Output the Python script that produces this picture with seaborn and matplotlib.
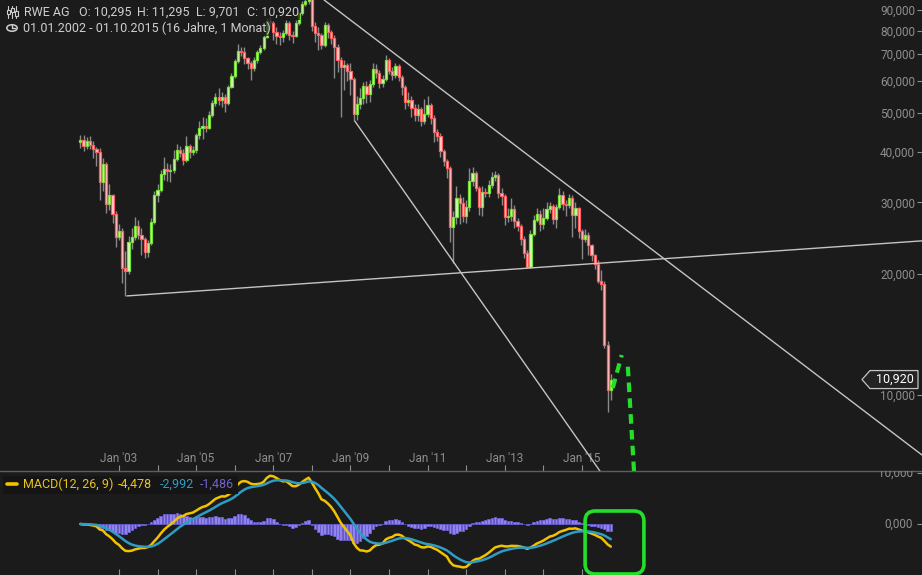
import numpy as np
import pandas as pd
import matplotlib
matplotlib.use("Agg")
import matplotlib.pyplot as plt
from matplotlib.lines import Line2D
from matplotlib.patches import FancyBboxPatch, Rectangle, Circle, Polygon
from matplotlib.transforms import IdentityTransform, blended_transform_factory
import seaborn as sns

# monthly RWE AG candles, Jan 2002 .. Oct 2015 (EUR)
months = pd.date_range("2002-01-01", "2015-10-01", freq="MS")
first_open = 42.3
closes = [
    42.85, 41.4, 42.6, 41.65, 40.7, 40.0, 33.7, 37.4, 29.7, 31.3, 28.1, 24.6,
    25.5, 20.6, 20.3, 23.9, 24.6, 26.2, 24.9, 24.3, 22.6, 23.8, 26.8, 31.3,
    32.2, 35.3, 36.3, 35.9, 36.1, 38.4, 40.5, 39.8, 38.2, 41.4, 40.0, 40.5,
    44.1, 45.9, 46.5, 45.9, 49.4, 52.9, 54.8, 53.8, 54.8, 52.9, 58.0, 61.7,
    67.3, 71.2, 70.9, 68.4, 66.5, 64.6, 67.7, 70.8, 72.4, 77.1, 84.5, 83.5,
    79.4, 77.6, 77.1, 79.0, 83.5, 78.0, 77.6, 83.5, 88.5, 93.1, 94.8, 96.5,
    82.1, 79.0, 78.0, 73.7, 82.6, 79.4, 76.7, 72.9, 67.7, 65.0, 65.8, 63.5,
    60.7, 49.7, 52.6, 54.5, 58.3, 55.7, 59.0, 64.2, 62.8, 59.3, 60.7, 67.7,
    63.5, 62.1, 65.4, 61.4, 58.0, 53.2, 53.8, 51.4, 49.4, 51.1, 47.7, 49.7,
    52.3, 48.6, 44.9, 43.8, 40.3, 38.0, 36.5, 26.1, 27.6, 30.8, 29.9, 27.8,
    29.2, 33.9, 35.5, 32.6, 29.2, 31.8, 31.7, 33.2, 34.7, 35.1, 31.7, 31.1,
    27.6, 27.8, 28.9, 27.0, 26.2, 24.3, 22.5, 20.7, 25.1, 27.15, 28.1, 26.5,
    27.5, 28.9, 29.4, 27.3, 29.2, 31.3, 29.7, 29.55, 30.8, 27.9, 29.0, 25.5,
    24.4, 24.9, 23.5, 22.2, 21.1, 19.2, 18.8, 13.3, 10.30, 10.92,
]
highs = [
    44.0, 44.2, 43.6, 43.9, 42.5, 41.2, 41.0, 38.6, 37.9, 33.4, 31.5, 28.6,
    26.5, 26.0, 22.8, 24.8, 26.0, 27.6, 27.2, 25.9, 24.6, 24.2, 27.5, 32.0,
    33.4, 36.2, 38.9, 37.5, 37.4, 40.4, 41.8, 41.3, 40.6, 43.9, 42.0, 41.4,
    44.6, 47.8, 49.0, 48.5, 50.5, 53.8, 56.0, 57.5, 56.5, 55.8, 58.8, 62.8,
    68.0, 74.0, 73.0, 72.8, 69.0, 67.2, 69.0, 71.5, 73.5, 78.0, 86.0, 86.5,
    84.5, 81.5, 79.5, 80.5, 85.0, 84.5, 80.0, 85.0, 89.5, 94.5, 97.5, 99.0,
    100.5, 84.0, 81.5, 79.0, 84.0, 83.5, 80.5, 78.0, 74.0, 69.0, 67.5, 66.5,
    66.5, 61.5, 55.0, 57.5, 59.5, 60.0, 60.5, 66.5, 66.0, 64.0, 62.0, 69.5,
    68.5, 65.0, 66.5, 66.0, 62.0, 58.5, 56.5, 55.0, 52.5, 52.5, 51.8, 54.0,
    55.0, 53.0, 49.5, 45.5, 44.5, 40.8, 38.5, 37.0, 28.5, 32.9, 31.5, 31.0,
    30.5, 36.5, 36.8, 36.0, 33.0, 33.0, 32.5, 34.2, 35.8, 35.9, 35.5, 32.5,
    31.5, 29.0, 30.8, 29.5, 27.5, 26.5, 24.8, 22.9, 25.6, 28.0, 29.0, 28.7,
    29.0, 30.0, 30.0, 29.8, 29.8, 32.6, 32.0, 30.5, 31.5, 31.3, 30.0, 29.2,
    25.8, 25.8, 25.3, 23.7, 22.4, 21.6, 20.4, 19.2, 13.6, 11.295,
]
lows = [
    41.0, 40.2, 40.6, 40.6, 38.6, 37.0, 30.4, 32.0, 28.3, 28.7, 26.7, 23.3,
    24.2, 18.9, 17.6, 19.9, 23.0, 24.2, 24.3, 22.2, 21.9, 22.0, 23.5, 26.5,
    30.0, 31.8, 34.2, 34.0, 33.7, 35.4, 38.0, 38.9, 37.2, 37.8, 38.6, 39.4,
    39.8, 43.2, 43.0, 44.8, 45.5, 48.9, 52.0, 52.2, 51.8, 50.2, 52.3, 57.5,
    61.0, 66.5, 69.3, 66.0, 64.3, 60.4, 63.5, 66.5, 70.0, 71.5, 76.5, 81.0,
    76.0, 74.0, 73.5, 75.0, 78.0, 76.0, 74.5, 77.0, 82.5, 87.5, 92.0, 93.0,
    80.0, 75.0, 71.5, 72.0, 73.0, 76.5, 74.0, 61.0, 63.0, 48.8, 57.0, 60.0,
    55.5, 47.7, 48.0, 51.0, 52.5, 53.0, 53.3, 58.0, 61.0, 57.5, 58.0, 60.0,
    62.5, 60.5, 61.0, 60.0, 55.5, 51.0, 52.0, 49.0, 47.8, 47.8, 46.5, 47.0,
    49.0, 47.0, 42.3, 42.5, 38.8, 37.0, 34.5, 24.0, 21.2, 26.5, 26.5, 26.8,
    26.7, 28.6, 33.0, 32.0, 28.0, 27.7, 31.0, 31.0, 32.5, 34.0, 30.8, 29.5,
    26.4, 26.8, 27.0, 26.0, 25.5, 23.5, 21.8, 20.6, 20.6, 24.8, 26.8, 25.5,
    25.8, 27.2, 28.2, 26.5, 26.0, 28.9, 28.8, 27.7, 29.0, 24.7, 25.9, 24.5,
    21.7, 24.0, 22.2, 21.5, 20.5, 18.9, 18.2, 13.1, 9.10, 9.701,
]

price_ticks = [10, 20, 30, 40, 50, 60, 70, 80, 90]
price_tick_labels = ["10,000", "20,000", "30,000", "40,000", "50,000",
                     "60,000", "70,000", "80,000", "90,000"]
macd_ticks = [0, 10]
macd_tick_labels = ["0,000", "10,000"]
label_years = [2003, 2005, 2007, 2009, 2011, 2013, 2015]

# hand drawn trend lines (month index, price)
trend_upper = ([75.8, 261.8], [95.3, 7.10])
trend_steep = ([85.4, 165.0], [47.7, 5.93])
trend_support = ([14.5, 261.8], [17.6, 24.1])
arrow_up = ([165.6, 168.4], [10.41, 12.56])
arrow_down = ([170.3, 172.3], [11.75, 6.3])
box_x = (157.0, 175.3)
box_y = (-9.8, 2.55)

header_parts = [("RWE AG", 24), ("O: 10,295", 79), ("H: 11,295", 137),
                ("L: 9,701", 196), ("C: 10,920", 247)]
header_range = "01.01.2002 - 01.10.2015 (16 Jahre, 1 Monat)"
last_price = 10.92
last_label = "10,920"
macd_parts = [("MACD(12, 26, 9)", 23, "#e9c21c"), ("-4,478", 118, "#e9c21c"),
              ("-2,992", 160, "#2e9cc4"), ("-1,486", 200, "#6f63c8")]

bg = "#1c1b1b"
grey = "#8e8e8e"
sns.set_theme(style="dark", rc={"axes.facecolor": bg, "figure.facecolor": bg,
                                "savefig.facecolor": bg})
plt.rcParams["font.family"] = ["Roboto", "DejaVu Sans"]

W, H = 922, 575
fig = plt.figure(figsize=(W / 100, H / 100), dpi=100)
split = 104 / H
ax = fig.add_axes([0, split, 1, 1 - split])
axm = fig.add_axes([0, 0, 1, split], sharex=ax)

x = np.arange(len(closes))
c = np.array(closes)
o = np.r_[first_open, c[:-1]]
up = c >= o
bottom = np.minimum(o, c)
height = np.maximum(np.abs(c - o), bottom * 0.006)

ax.vlines(x, lows, highs, color="#8a8a8a", lw=1.0, zorder=2)
ax.bar(x[up], height[up], bottom=bottom[up], width=0.68, color="#d6f9bd",
       edgecolor="#74e036", linewidth=0.9, zorder=3)
ax.bar(x[~up], height[~up], bottom=bottom[~up], width=0.68, color="#ffd2d2",
       edgecolor="#ff5e5e", linewidth=0.9, zorder=3)

ax.set_yscale("log")
ax.set_xlim(-25.0, 261.8)
ax.set_ylim(6.48, 95.27)

for lx, ly in (trend_upper, trend_steep, trend_support):
    ax.plot(lx, ly, color="#c4c4c4", lw=1.0, zorder=4)
for lx, ly in (arrow_up, arrow_down):
    ax.plot(lx, ly, color="#22e02a", lw=3.0, linestyle=(0, (2.3, 1.5)),
            dash_capstyle="butt", zorder=5)

ax.set_yticks(price_ticks)
ax.set_yticklabels(price_tick_labels)
ax.yaxis.set_minor_locator(matplotlib.ticker.NullLocator())
ax.tick_params(axis="y", which="both", left=False, right=True, labelleft=False,
               labelright=True, direction="in", length=3.5, width=0.8,
               color=grey, labelcolor=grey, labelsize=8.5, pad=-5)
for lab in ax.get_yticklabels():
    lab.set_ha("right")

tick_pos = [(yr - 2002) * 12 for yr in label_years]
ax.set_xticks(tick_pos)
ax.tick_params(axis="x", bottom=True, labelbottom=False, direction="in",
               length=4, width=0.8, color=grey)
xt = blended_transform_factory(ax.transData, ax.transAxes)
for pos, yr in zip(tick_pos, label_years):
    ax.text(pos, 13 / 471, "Jan '%02d" % (yr % 100), transform=xt, ha="center",
            va="center", color=grey, fontsize=8.5)
for sp in ax.spines.values():
    sp.set_visible(False)

# last price tag (pointed label at the right edge)
_, ty = ax.transData.transform((0, last_price))
tag = Polygon([(862, ty), (870, ty + 9), (918, ty + 9), (918, ty - 9), (870, ty - 9)],
              closed=True, transform=IdentityTransform(), fc="#232323",
              ec="#c4c4c4", lw=0.9, zorder=6)
fig.add_artist(tag)
fig.text(914 / W, ty / H, last_label, ha="right", va="center", color="white",
         fontsize=9, zorder=7)

# MACD panel
s = pd.Series(closes)
macd = s.ewm(span=12, adjust=False).mean() - s.ewm(span=26, adjust=False).mean()
signal = macd.ewm(span=9, adjust=False).mean()
df = pd.DataFrame({"month": x, "macd": macd, "signal": signal,
                   "hist": macd - signal})

axm.bar(df["month"], df["hist"], width=0.8, color="#8f84ea",
        edgecolor="#6c5fd6", linewidth=0.6, zorder=2)
sns.lineplot(data=df, x="month", y="macd", ax=axm, color="#f2c200", lw=1.8, zorder=3)
sns.lineplot(data=df, x="month", y="signal", ax=axm, color="#2e9cc4", lw=1.8, zorder=3)
axm.set_ylim(-10.0, 10.39)
axm.set_xlabel("")
axm.set_ylabel("")
axm.set_yticks(macd_ticks)
axm.tick_params(axis="y", left=False, right=True, labelleft=False, labelright=False,
                direction="in", length=3.5, width=0.8, color=grey)
yt = blended_transform_factory(axm.transAxes, axm.transData)
for val, lab in zip(macd_ticks, macd_tick_labels):
    axm.text(913 / W, val, lab, transform=yt, ha="right", va="center",
             color=grey, fontsize=8.5, clip_on=True)
axm.set_xticks([(yr - 2002) * 12 for yr in range(2003, 2016)])
axm.tick_params(axis="x", bottom=True, labelbottom=False, direction="in",
                length=4, width=0.8, color=grey)
for name, sp in axm.spines.items():
    sp.set_visible(name == "top")
axm.spines["top"].set_color("#5e5e5e")
axm.spines["top"].set_linewidth(1.0)


def fpx(px, py):
    return px / W, 1 - py / H


# MACD legend
fig.add_artist(Rectangle(fpx(3, 494), 235 / W, 18 / H, transform=fig.transFigure,
                         fc="#151515", ec="none", zorder=5))
fig.add_artist(Line2D([7 / W, 17 / W], [1 - 484 / H] * 2, transform=fig.transFigure,
                      color="#f2c200", lw=2.6, zorder=6))
for txt, px, col in macd_parts:
    fig.text(*fpx(px, 484), txt, color=col, fontsize=9, va="center", zorder=6)

# header
for txt, px in header_parts:
    fig.text(*fpx(px, 12), txt, color="#cfcfcf", fontsize=9, va="center", zorder=6,
             bbox=dict(boxstyle="square,pad=0.1", fc=bg, ec="none", alpha=0.75))
fig.text(*fpx(23, 28), header_range, color="#cfcfcf", fontsize=9, va="center", zorder=6,
         bbox=dict(boxstyle="square,pad=0.1", fc=bg, ec="none", alpha=0.75))
for ix, (b0, b1) in zip([8, 12, 16], [(10, 14), (8, 12), (11, 16)]):
    fig.add_artist(Line2D([ix / W] * 2, [1 - 6 / H, 1 - 18 / H], transform=fig.transFigure,
                          color="#cfcfcf", lw=0.8, zorder=7))
    fig.add_artist(Rectangle(fpx(ix - 1.5, b1), 3 / W, (b1 - b0) / H,
                             transform=fig.transFigure, fc=bg, ec="#cfcfcf", lw=0.8, zorder=8))
fig.add_artist(Circle(fpx(12, 28), 5.2 / W, transform=fig.transFigure, fill=False,
                      ec="#cfcfcf", lw=1.1, zorder=7))
fig.add_artist(Line2D([12 / W, 12 / W, 15 / W], [1 - 24.5 / H, 1 - 28 / H, 1 - 28 / H],
                      transform=fig.transFigure, color="#cfcfcf", lw=1.0, zorder=7))

# green highlight box around the MACD end
x0, y0 = axm.transData.transform((box_x[0], box_y[0]))
x1, y1 = axm.transData.transform((box_x[1], box_y[1]))
fig.add_artist(FancyBboxPatch((x0, y0), x1 - x0, y1 - y0,
                              boxstyle="round,pad=0,rounding_size=10",
                              transform=IdentityTransform(), fill=False,
                              ec="#22e02a", lw=2.6, zorder=9))

fig.savefig("out.png", dpi=100)
